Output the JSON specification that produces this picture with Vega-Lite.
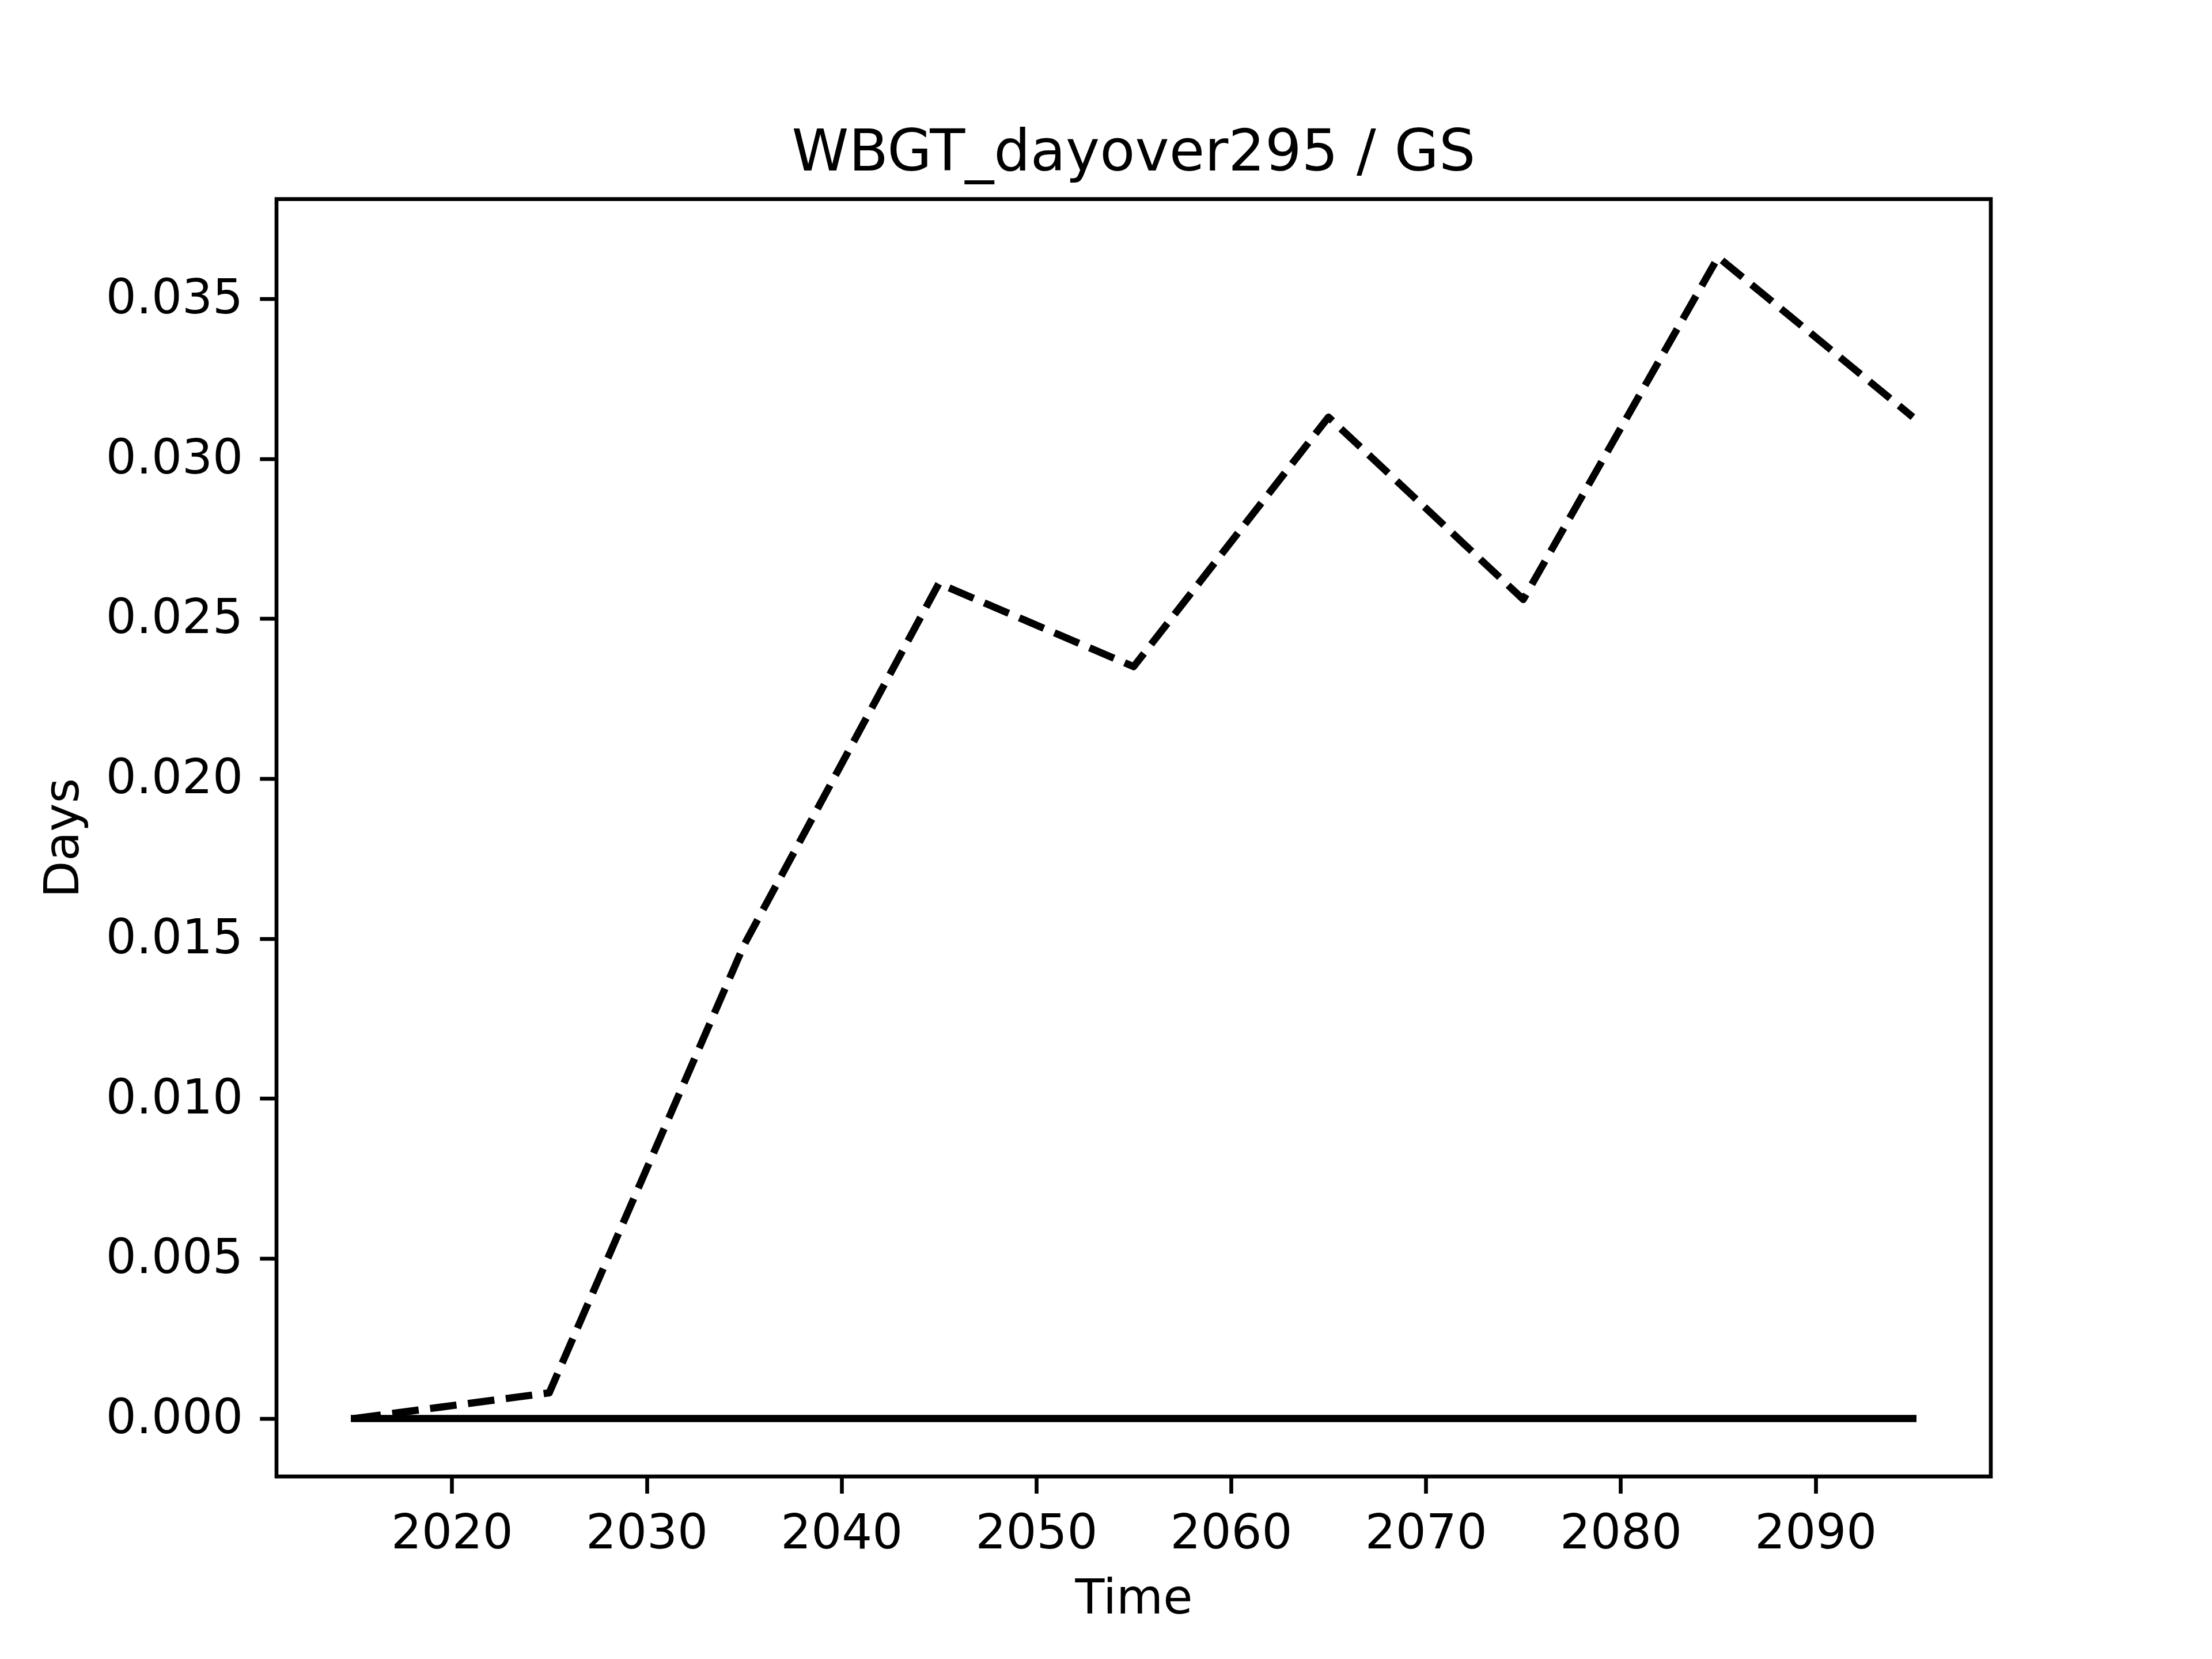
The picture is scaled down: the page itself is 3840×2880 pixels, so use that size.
{
  "$schema": "https://vega.github.io/schema/vega-lite/v6.json",
  "autosize": {"type": "none"},
  "width": 2976,
  "height": 2217.6,
  "padding": {"left": 480, "top": 345.6, "right": 384, "bottom": 316.8},
  "background": "white",
  "title": {
    "text": "WBGT_dayover295 / GS",
    "font": "DejaVu Sans",
    "fontSize": 100,
    "fontWeight": "normal",
    "color": "black",
    "anchor": "middle",
    "baseline": "alphabetic",
    "offset": 50,
    "dy": 100
  },
  "config": {
    "view": {"stroke": "black", "strokeWidth": 6.67},
    "axis": {
      "grid": false,
      "domain": false,
      "labelFont": "DejaVu Sans",
      "labelFontSize": 83.3,
      "labelColor": "black",
      "labelLimit": 2000,
      "tickColor": "black",
      "tickSize": 29.2,
      "tickWidth": 6.67,
      "labelPadding": 29.2,
      "titleFont": "DejaVu Sans",
      "titleFontSize": 83.3,
      "titleFontWeight": "normal",
      "titleColor": "black",
      "titleLimit": 2000,
      "labelFlush": false,
      "labelOverlap": false
    }
  },
  "data": {
    "values": [
      {"year": 2015, "series": "A", "days": 0.0},
      {"year": 2025, "series": "A", "days": 0.0008},
      {"year": 2035, "series": "A", "days": 0.0148},
      {"year": 2045, "series": "A", "days": 0.0261},
      {"year": 2055, "series": "A", "days": 0.0235},
      {"year": 2065, "series": "A", "days": 0.0313},
      {"year": 2075, "series": "A", "days": 0.0256},
      {"year": 2085, "series": "A", "days": 0.0363},
      {"year": 2095, "series": "A", "days": 0.0313},
      {"year": 2015, "series": "B", "days": 0.0},
      {"year": 2025, "series": "B", "days": 0.0},
      {"year": 2035, "series": "B", "days": 0.0},
      {"year": 2045, "series": "B", "days": 0.0},
      {"year": 2055, "series": "B", "days": 0.0},
      {"year": 2065, "series": "B", "days": 0.0},
      {"year": 2075, "series": "B", "days": 0.0},
      {"year": 2085, "series": "B", "days": 0.0},
      {"year": 2095, "series": "B", "days": 0.0}
    ]
  },
  "encoding": {
    "x": {
      "field": "year",
      "type": "quantitative",
      "scale": {"domain": [2011, 2099], "nice": false, "zero": false},
      "axis": {
        "values": [2020, 2030, 2040, 2050, 2060, 2070, 2080, 2090],
        "format": "d",
        "title": "Time",
        "titleBaseline": "alphabetic",
        "titleY": 237
      }
    },
    "y": {
      "field": "days",
      "type": "quantitative",
      "scale": {"domain": [-0.001815, 0.038115], "nice": false, "zero": false},
      "axis": {
        "values": [0, 0.005, 0.01, 0.015, 0.02, 0.025, 0.03, 0.035],
        "format": ".3f",
        "title": "Days",
        "titleBaseline": "alphabetic",
        "titleX": -345
      }
    }
  },
  "layer": [
    {
      "transform": [{"filter": "datum.series === 'A'"}],
      "mark": {"type": "line", "color": "black", "strokeWidth": 12.5, "strokeDash": [46.25, 20], "strokeCap": "butt", "strokeJoin": "round"}
    },
    {
      "transform": [{"filter": "datum.series === 'B'"}],
      "mark": {"type": "line", "color": "black", "strokeWidth": 12.5, "strokeCap": "square", "strokeJoin": "round"}
    }
  ]
}
